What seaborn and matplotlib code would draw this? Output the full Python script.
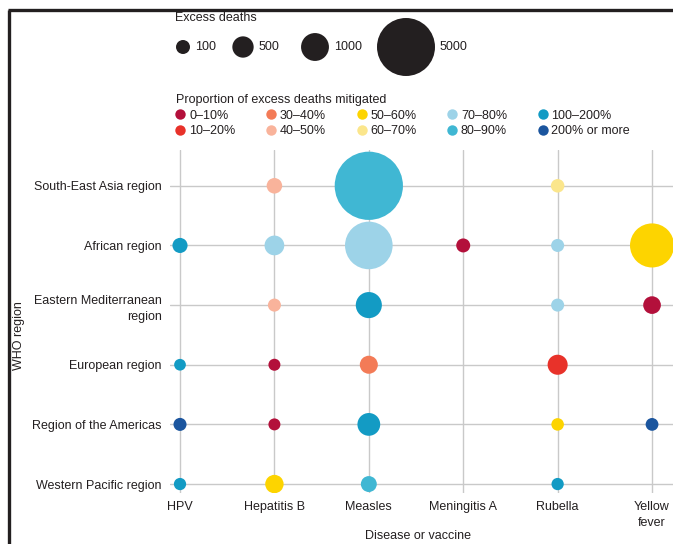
import matplotlib
matplotlib.use("Agg")
import matplotlib.pyplot as plt
from matplotlib.lines import Line2D
import pandas as pd
import seaborn as sns

# --- categories -----------------------------------------------------------
regions = [
    "South-East Asia region",
    "African region",
    "Eastern Mediterranean\nregion",
    "European region",
    "Region of the Americas",
    "Western Pacific region",
]
diseases = ["HPV", "Hepatitis B", "Measles", "Meningitis A", "Rubella", "Yellow\nfever"]

bands = ["0–10%", "10–20%", "30–40%", "40–50%", "50–60%",
         "60–70%", "70–80%", "80–90%", "100–200%", "200% or more"]
band_colors = ["#b3103b", "#e8322a", "#f37b57", "#f9b39b", "#fdd400",
               "#fbe68c", "#9dd3e8", "#40b7d3", "#139bc4", "#1b559e"]

# --- one entry per bubble -------------------------------------------------
bubble_region = [
    0, 0, 0,
    1, 1, 1, 1, 1, 1,
    2, 2, 2, 2,
    3, 3, 3, 3,
    4, 4, 4, 4, 4,
    5, 5, 5, 5,
]
bubble_disease = [
    1, 2, 4,
    0, 1, 2, 3, 4, 5,
    1, 2, 4, 5,
    0, 1, 2, 4,
    0, 1, 2, 4, 5,
    0, 1, 2, 4,
]
bubble_deaths = [
    170, 7000, 80,
    150, 400, 3300, 100, 60, 2800,
    60, 850, 60, 280,
    10, 20, 300, 420,
    60, 20, 600, 40, 50,
    30, 320, 190, 30,
]
bubble_band = [
    "40–50%", "80–90%", "60–70%",
    "100–200%", "70–80%", "70–80%", "0–10%", "70–80%", "50–60%",
    "40–50%", "100–200%", "70–80%", "0–10%",
    "100–200%", "0–10%", "30–40%", "10–20%",
    "200% or more", "0–10%", "100–200%", "50–60%", "200% or more",
    "100–200%", "50–60%", "80–90%", "100–200%",
]

size_keys = [100, 500, 1000, 5000]

# marker area (pt^2) grows linearly with excess deaths
AREA_AT_ZERO = 68.0
AREA_PER_DEATH = 0.3352
NORM_TOP = 8000
SIZE_RANGE = (AREA_AT_ZERO, AREA_AT_ZERO + AREA_PER_DEATH * NORM_TOP)
SIZE_NORM = (0, NORM_TOP)

INK = "#231f20"
GRID = "#c9c9c9"

df = pd.DataFrame({
    "disease": bubble_disease,
    "region": bubble_region,
    "deaths": bubble_deaths,
    "band": bubble_band,
})

sns.set_theme(style="white")
plt.rcParams["font.family"] = ["Liberation Sans Narrow", "Liberation Sans", "DejaVu Sans"]
plt.rcParams["text.color"] = INK
plt.rcParams["axes.labelcolor"] = INK
plt.rcParams["xtick.color"] = INK
plt.rcParams["ytick.color"] = INK

W, H = 673, 544
fig = plt.figure(figsize=(W / 100, H / 100), dpi=100)

# plot area runs off the right edge of the figure
ax_left, ax_right, ax_top, ax_bottom = 170, 700, 150, 493
ax = fig.add_axes([ax_left / W, 1 - ax_bottom / H,
                   (ax_right - ax_left) / W, (ax_bottom - ax_top) / H])

sns.scatterplot(
    data=df, x="disease", y="region", hue="band", size="deaths",
    hue_order=bands, palette=dict(zip(bands, band_colors)),
    sizes=SIZE_RANGE, size_norm=SIZE_NORM,
    linewidth=0, alpha=1, legend=False, ax=ax, zorder=3,
)

ax.set_xlim(-0.106, 5.508)
ax.set_ylim(5.15, -0.6)
ax.set_xticks(range(len(diseases)))
ax.set_xticklabels(diseases, fontsize=9, linespacing=1.45)
ax.set_yticks(range(len(regions)))
ax.set_yticklabels(regions, fontsize=9, linespacing=1.5)
ax.tick_params(length=0, pad=6)
for s in ax.spines.values():
    s.set_visible(False)
ax.grid(True, color=GRID, linewidth=1.0)
ax.set_axisbelow(True)

ax.set_xlabel("Disease or vaccine", fontsize=9)
ax.set_ylabel("WHO region", fontsize=9)
ax.xaxis.set_label_coords((418 - ax_left) / (ax_right - ax_left), -(530 - ax_bottom) / (ax_bottom - ax_top))
ax.yaxis.set_label_coords((25 - ax_left) / (ax_right - ax_left), 1 - (336 - ax_top) / (ax_bottom - ax_top))

# --- size key -------------------------------------------------------------
lax = fig.add_axes([0, 0, 1, 1], zorder=5)
lax.set_xlim(0, W)
lax.set_ylim(H, 0)
lax.axis("off")
lax.text(175, 18, "Excess deaths", fontsize=9, va="center", ha="left")
key_x = [183, 243, 315, 406]
key_y = 47
lax.scatter(key_x, [key_y] * len(size_keys),
            s=[AREA_AT_ZERO + AREA_PER_DEATH * v for v in size_keys],
            color=INK, linewidth=0)
key_r = [((AREA_AT_ZERO + AREA_PER_DEATH * v) ** 0.5) * 100 / 72 / 2 for v in size_keys]
for x, r, v in zip(key_x, key_r, size_keys):
    lax.text(x + r + 5, key_y, str(v), fontsize=9, va="center", ha="left")

# frame around the panel
lax.plot([8, W + 5], [10, 10], color=INK, linewidth=2.4, solid_capstyle="butt")
lax.plot([9, 9], [10, H + 5], color=INK, linewidth=2.4, solid_capstyle="butt")

# --- colour key -----------------------------------------------------------
handles = [Line2D([0], [0], marker="o", linestyle="", markersize=7.5,
                  markerfacecolor=c, markeredgewidth=0) for c in band_colors]
leg = fig.legend(
    handles, bands, ncol=5, loc="upper left",
    bbox_to_anchor=(176 / W, 1 - 94 / H),
    frameon=False, title="Proportion of excess deaths mitigated",
    alignment="left", fontsize=9, title_fontsize=9,
    handlelength=0.7, handletextpad=0.35, columnspacing=2.5,
    labelspacing=0.3, borderpad=0, borderaxespad=0,
)

fig.savefig("out.png", dpi=100)
